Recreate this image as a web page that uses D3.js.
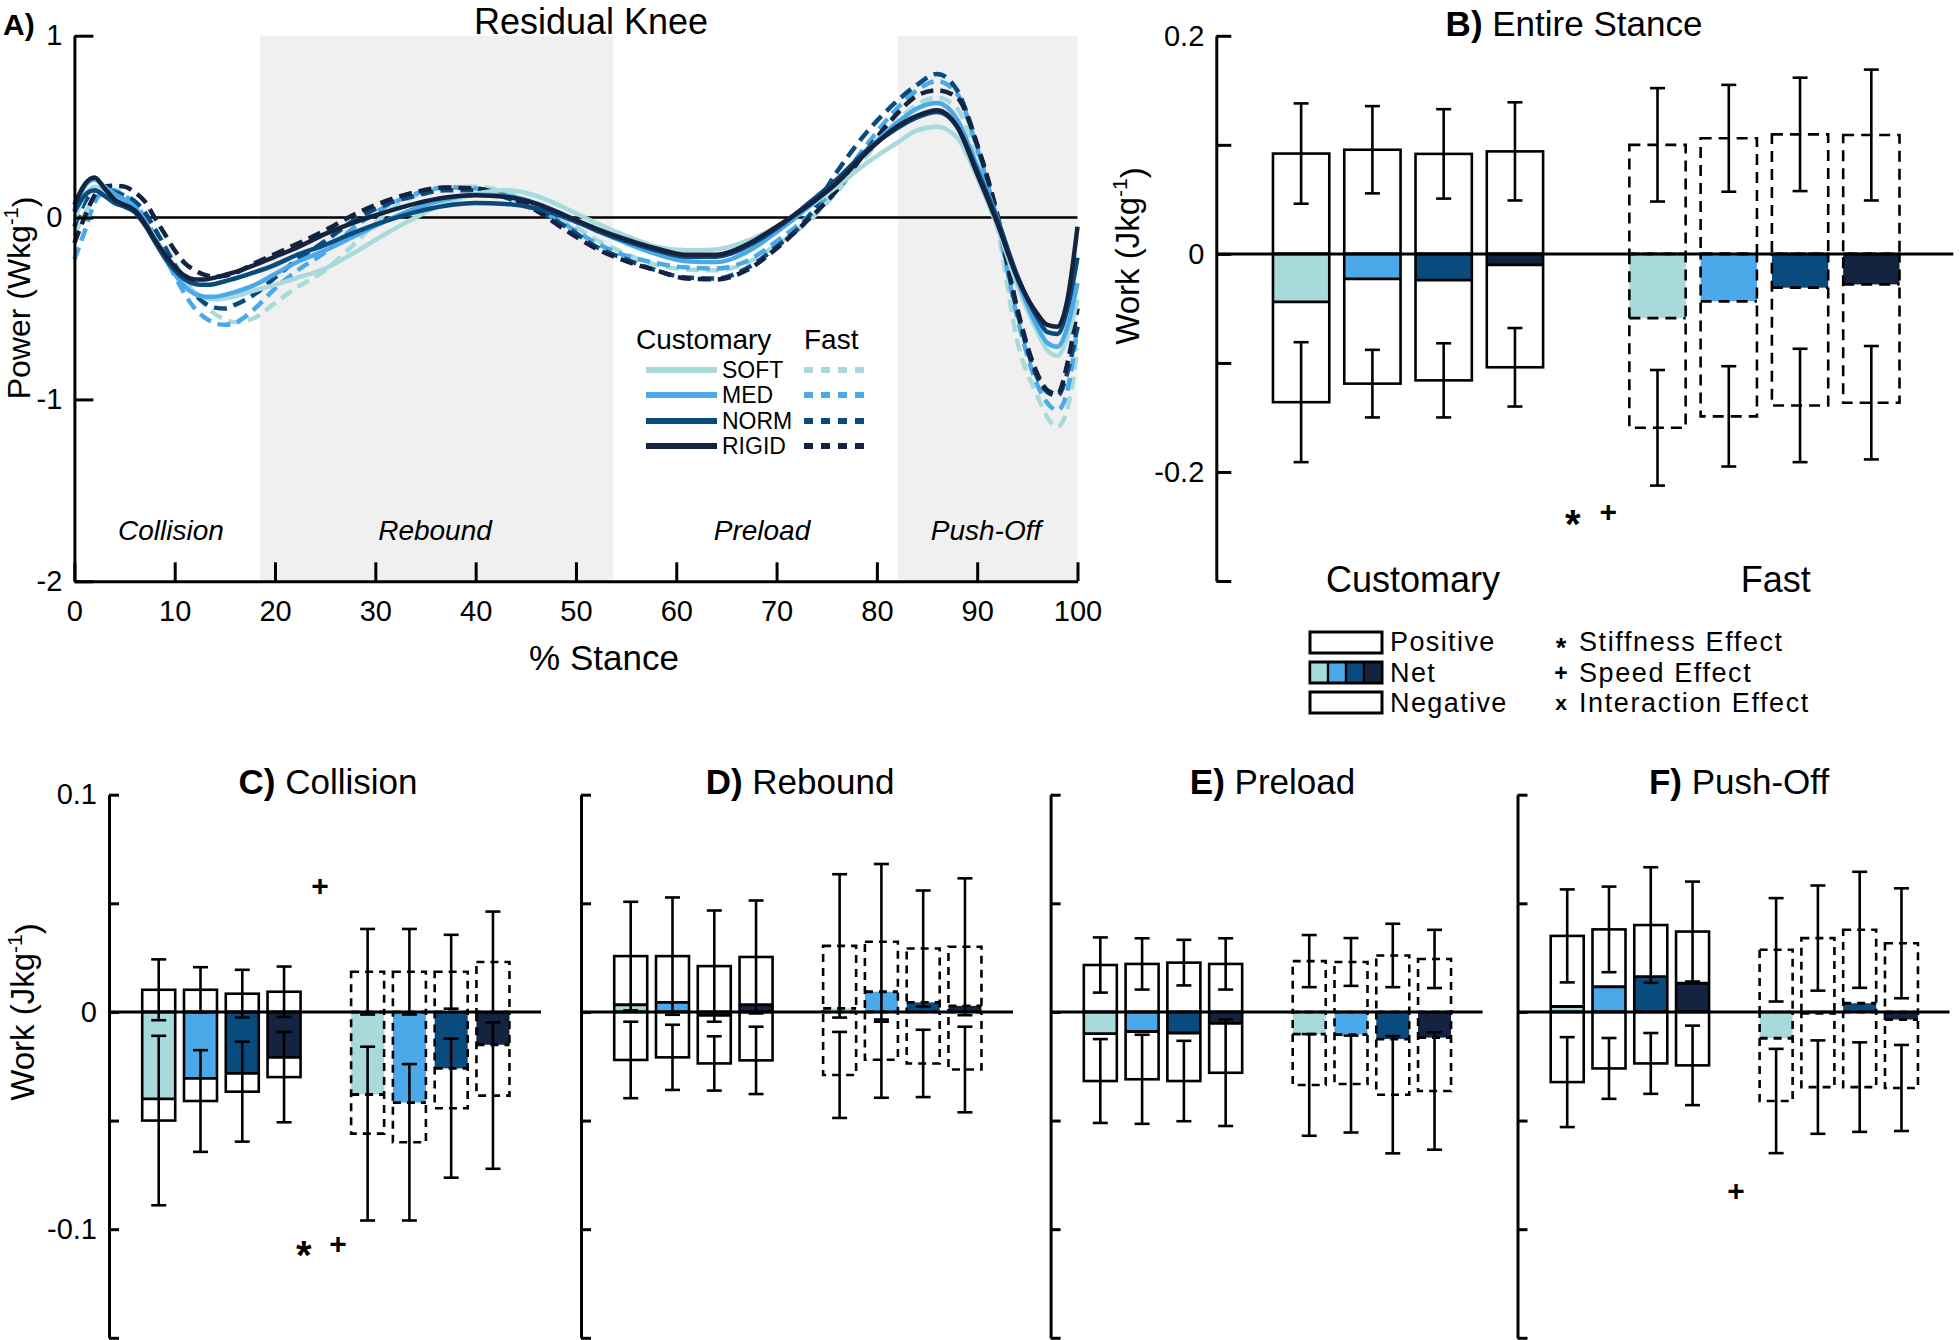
<!DOCTYPE html>
<html><head><meta charset="utf-8">
<script src="https://cdn.jsdelivr.net/npm/d3@7"></script>
<style>
body{margin:0;background:#fff;}
svg{display:block;font-family:"Liberation Sans",Arial,Helvetica,sans-serif;}
</style></head><body>
<svg id="chart" width="1960" height="1340"></svg>
<script>
// ================= DATA =================
const conditions = ["SOFT","MED","NORM","RIGID"];
const speeds = ["Customary","Fast"];
const condColors = ["#a8dadc","#4ba9e9","#0a4b7e","#142340"];
const phaseNames = ["Collision","Rebound","Preload","Push-Off"];
const phaseBounds = [0, 18.5, 53.7, 82.1, 100];
const powerTicks = [1, 0, -1, -2];
const stanceTicks = [0,10,20,30,40,50,60,70,80,90,100];

// Panel A: residual knee power (W/kg) vs % stance
const stance = [0,1,2,3,4,5,6,7,8,9,10,11,12,13,14,15,16,18,20,22,25,28,31,34,37,40,43,46,49,52,55,58,61,64,67,70,73,76,79,82,84,86,88,90,92,94,96,97,98,99,100];
const softCustomary = [-0.02,0.12,0.17,0.15,0.12,0.09,0.05,-0.02,-0.11,-0.20,-0.29,-0.36,-0.41,-0.44,-0.45,-0.445,-0.435,-0.40,-0.37,-0.335,-0.28,-0.19,-0.09,0.0,0.08,0.13,0.15,0.12,0.05,-0.03,-0.10,-0.16,-0.18,-0.175,-0.13,-0.05,0.05,0.17,0.30,0.41,0.48,0.50,0.44,0.22,-0.05,-0.37,-0.63,-0.73,-0.76,-0.66,-0.45];
const medCustomary = [0.04,0.17,0.21,0.17,0.13,0.10,0.06,-0.02,-0.12,-0.22,-0.31,-0.38,-0.42,-0.435,-0.435,-0.425,-0.41,-0.37,-0.31,-0.25,-0.18,-0.10,-0.02,0.05,0.10,0.125,0.12,0.08,0.01,-0.07,-0.14,-0.20,-0.24,-0.245,-0.19,-0.08,0.05,0.20,0.37,0.52,0.60,0.63,0.54,0.28,0.0,-0.34,-0.60,-0.69,-0.71,-0.60,-0.36];
const normCustomary = [0.03,0.12,0.15,0.12,0.08,0.06,0.03,-0.04,-0.13,-0.22,-0.29,-0.34,-0.365,-0.37,-0.365,-0.35,-0.335,-0.30,-0.26,-0.21,-0.15,-0.08,-0.02,0.03,0.065,0.08,0.075,0.05,0.0,-0.07,-0.13,-0.18,-0.215,-0.215,-0.16,-0.06,0.07,0.21,0.37,0.49,0.55,0.58,0.50,0.26,-0.01,-0.32,-0.55,-0.63,-0.64,-0.50,-0.22];
const rigidCustomary = [0.07,0.18,0.22,0.16,0.10,0.07,0.04,-0.03,-0.12,-0.20,-0.27,-0.32,-0.34,-0.34,-0.33,-0.315,-0.30,-0.26,-0.215,-0.17,-0.09,-0.025,0.03,0.077,0.11,0.123,0.114,0.077,0.01,-0.06,-0.12,-0.17,-0.205,-0.205,-0.15,-0.05,0.06,0.19,0.36,0.50,0.56,0.59,0.50,0.24,-0.03,-0.33,-0.53,-0.59,-0.60,-0.45,-0.05];
const softFast = [-0.10,0.02,0.10,0.13,0.14,0.12,0.09,0.03,-0.06,-0.15,-0.25,-0.34,-0.42,-0.48,-0.53,-0.56,-0.575,-0.55,-0.47,-0.39,-0.29,-0.14,0.02,0.12,0.165,0.17,0.14,0.07,-0.02,-0.12,-0.20,-0.26,-0.285,-0.29,-0.25,-0.15,-0.03,0.14,0.34,0.53,0.62,0.66,0.60,0.33,-0.05,-0.68,-0.98,-1.10,-1.15,-1.05,-0.72];
const medFast = [-0.23,-0.08,0.08,0.15,0.15,0.12,0.08,0.0,-0.10,-0.21,-0.32,-0.42,-0.50,-0.55,-0.58,-0.59,-0.58,-0.50,-0.39,-0.30,-0.19,-0.05,0.06,0.13,0.165,0.16,0.12,0.05,-0.04,-0.14,-0.21,-0.25,-0.275,-0.28,-0.24,-0.13,0.0,0.18,0.40,0.60,0.70,0.75,0.68,0.38,-0.02,-0.55,-0.92,-1.02,-1.06,-0.95,-0.60];
const normFast = [-0.05,0.08,0.15,0.16,0.14,0.12,0.09,0.03,-0.06,-0.16,-0.26,-0.35,-0.42,-0.47,-0.495,-0.50,-0.48,-0.42,-0.33,-0.24,-0.13,-0.01,0.07,0.12,0.15,0.15,0.11,0.04,-0.05,-0.16,-0.23,-0.29,-0.33,-0.335,-0.28,-0.16,-0.01,0.25,0.47,0.64,0.73,0.79,0.70,0.40,0.0,-0.52,-0.88,-0.96,-0.98,-0.85,-0.60];
const rigidFast = [-0.14,0.0,0.12,0.17,0.175,0.17,0.14,0.09,0.0,-0.09,-0.18,-0.25,-0.29,-0.315,-0.325,-0.32,-0.305,-0.25,-0.20,-0.15,-0.07,0.02,0.09,0.14,0.165,0.16,0.12,0.04,-0.07,-0.17,-0.24,-0.29,-0.335,-0.34,-0.29,-0.17,-0.02,0.15,0.37,0.57,0.67,0.70,0.66,0.40,0.02,-0.50,-0.86,-0.95,-0.97,-0.80,-0.50];

// Bar panels: order = Customary SOFT, MED, NORM, RIGID, Fast SOFT, MED, NORM, RIGID
const entirePos    = [0.092, 0.0955, 0.0917, 0.094, 0.100, 0.106, 0.1096, 0.109];
const entirePosErr = [0.046, 0.040, 0.041, 0.045, 0.052, 0.049, 0.052, 0.060];
const entireNet    = [-0.044, -0.023, -0.024, -0.010, -0.059, -0.0435, -0.031, -0.028];
const entireNeg    = [-0.136, -0.119, -0.116, -0.104, -0.1595, -0.149, -0.139, -0.1365];
const entireNegErr = [0.055, 0.031, 0.034, 0.036, 0.053, 0.046, 0.052, 0.052];

const collisionPos    = [0.0102, 0.0102, 0.0084, 0.0093, 0.0185, 0.0185, 0.0185, 0.023];
const collisionPosErr = [0.014, 0.0104, 0.011, 0.0116, 0.0197, 0.0197, 0.017, 0.0232];
const collisionNet    = [-0.040, -0.0306, -0.0283, -0.0209, -0.038, -0.0417, -0.026, -0.0151];
const collisionNeg    = [-0.050, -0.041, -0.0367, -0.030, -0.056, -0.060, -0.0443, -0.0385];
const collisionNegErr = [0.039, 0.0234, 0.023, 0.0208, 0.040, 0.036, 0.032, 0.0337];

const reboundPos    = [0.0257, 0.0257, 0.0211, 0.0253, 0.0304, 0.0323, 0.0292, 0.030];
const reboundPosErr = [0.025, 0.027, 0.0256, 0.026, 0.033, 0.0358, 0.0267, 0.0315];
const reboundNet    = [0.0033, 0.0044, -0.0016, 0.0033, 0.0016, 0.0093, 0.0044, 0.0028];
const reboundNeg    = [-0.0221, -0.0209, -0.0237, -0.0223, -0.029, -0.022, -0.0237, -0.0265];
const reboundNegErr = [0.0176, 0.015, 0.0125, 0.0155, 0.0198, 0.0175, 0.0155, 0.0197];

const preloadPos    = [0.0216, 0.0221, 0.0227, 0.0221, 0.0234, 0.023, 0.026, 0.0244];
const preloadPosErr = [0.0127, 0.0118, 0.0105, 0.0118, 0.012, 0.011, 0.0146, 0.0134];
const preloadNet    = [-0.010, -0.009, -0.0097, -0.0053, -0.0102, -0.0104, -0.0125, -0.0118];
const preloadNeg    = [-0.0318, -0.031, -0.0318, -0.028, -0.0336, -0.0332, -0.0381, -0.0364];
const preloadNegErr = [0.0193, 0.0205, 0.0185, 0.0245, 0.0234, 0.0223, 0.027, 0.027];

const pushoffPos    = [0.035, 0.038, 0.040, 0.037, 0.0286, 0.034, 0.0378, 0.0316];
const pushoffPosErr = [0.0214, 0.0197, 0.0266, 0.023, 0.0238, 0.0242, 0.0267, 0.0253];
const pushoffNet    = [0.0025, 0.0116, 0.0163, 0.0132, -0.0121, -0.0007, 0.004, -0.0035];
const pushoffNeg    = [-0.0323, -0.026, -0.0237, -0.0246, -0.041, -0.0346, -0.0346, -0.035];
const pushoffNegErr = [0.0207, 0.014, 0.014, 0.0183, 0.024, 0.0215, 0.0206, 0.0198];

// significance markers: symbol, bar-slot position, work value
const entireMarkers    = [["*", 4.81, -0.2365], ["+", 5.31, -0.2365]];
const collisionMarkers = [["+", 4.86, 0.058], ["*", 4.47, -0.1065], ["+", 5.29, -0.1065]];
const reboundMarkers   = [];
const preloadMarkers   = [];
const pushoffMarkers   = [["+", 5.04, -0.0822]];

const entireTicks = [0.2, 0.1, 0, -0.1, -0.2, -0.3];
const entireTickLabels = [0.2, 0, -0.2];
const phaseTicks = [0.1, 0.05, 0, -0.05, -0.1, -0.15];
const phaseTickLabels = [0.1, 0, -0.1];

const boxLegend = ["Positive", "Net", "Negative"];
const effectSymbols = ["*", "+", "x"];
const effectLabels = ["Stiffness Effect", "Speed Effect", "Interaction Effect"];

// ================= DRAW =================
const svg = d3.select("#chart");
const FONT = '"Liberation Sans",Arial,Helvetica,sans-serif';

function styleAxis(g, fs) {
  g.selectAll(".domain").attr("stroke", "#000").attr("stroke-width", 3);
  g.selectAll(".tick line").attr("stroke", "#000").attr("stroke-width", 3);
  g.selectAll(".tick text").attr("fill", "#000").style("font-size", fs + "px").style("font-family", FONT);
}

function yLabel(x, y, main, fs) {
  const t = svg.append("text").attr("transform", `translate(${x},${y}) rotate(-90)`)
    .attr("text-anchor", "middle").attr("dominant-baseline", "central")
    .style("font-size", fs + "px").attr("fill", "#000");
  t.append("tspan").text(main);
  t.append("tspan").attr("dy", "-0.38em").style("font-size", Math.round(fs * 0.63) + "px").text("-1");
  t.append("tspan").attr("dy", "0.38em").text(")");
}

// ---------- Panel A ----------
(function () {
  const x = d3.scaleLinear().domain([0, 100]).range([74.4, 1077.5]);
  const y = d3.scaleLinear().domain([-2, 1]).range([581.3, 35.7]);
  const g = svg.append("g");

  // phase shading (Rebound and Push-Off)
  [1, 3].forEach(i => {
    g.append("rect").attr("x", x(phaseBounds[i])).attr("y", y(1))
      .attr("width", x(phaseBounds[i + 1]) - x(phaseBounds[i]))
      .attr("height", y(-2) - y(1)).attr("fill", "#f0f0f0");
  });

  // zero line
  g.append("line").attr("x1", x(0)).attr("x2", x(100)).attr("y1", y(0)).attr("y2", y(0))
    .attr("stroke", "#000").attr("stroke-width", 2.5);

  const series = [
    [softFast, 0, true], [medFast, 1, true], [normFast, 2, true], [rigidFast, 3, true],
    [softCustomary, 0, false], [medCustomary, 1, false], [normCustomary, 2, false], [rigidCustomary, 3, false]
  ];
  const line = d3.line().x((d, i) => x(stance[i])).y(d => y(d)).curve(d3.curveMonotoneX);
  series.forEach(([vals, ci, dashed]) => {
    g.append("path").attr("d", line(vals)).attr("fill", "none")
      .attr("stroke", condColors[ci]).attr("stroke-width", 4.5)
      .attr("stroke-dasharray", dashed ? "13,7" : null);
  });

  // axes
  const ax = g.append("g").attr("transform", `translate(0,${y(-2)})`)
    .call(d3.axisBottom(x).tickValues(stanceTicks).tickSizeInner(-19).tickSizeOuter(0).tickPadding(19).tickFormat(d => String(d)));
  styleAxis(ax, 29);
  const ay = g.append("g").attr("transform", `translate(${x(0)},0)`)
    .call(d3.axisLeft(y).tickValues(powerTicks).tickSizeInner(-19).tickSizeOuter(0).tickPadding(12).tickFormat(d => String(d)));
  styleAxis(ay, 29);

  // phase labels
  const phaseLabelX = [171, 435, 762, 986];
  phaseNames.forEach((n, i) => {
    g.append("text").attr("x", phaseLabelX[i]).attr("y", 540).attr("text-anchor", "middle")
      .style("font-size", "28px").style("font-style", "italic").text(n);
  });

  // titles
  svg.append("text").attr("x", 3).attr("y", 35).style("font-size", "30px").style("font-weight", "bold").text("A)");
  svg.append("text").attr("x", 591).attr("y", 34).attr("text-anchor", "middle").style("font-size", "36px").text("Residual Knee");
  svg.append("text").attr("x", 604).attr("y", 670).attr("text-anchor", "middle").style("font-size", "35px").text("% Stance");
  yLabel(19, 298, "Power (Wkg", 32);

  // legend
  const lg = svg.append("g");
  lg.append("text").attr("x", 636).attr("y", 349).style("font-size", "28px").text(speeds[0]);
  lg.append("text").attr("x", 804).attr("y", 349).style("font-size", "28px").text(speeds[1]);
  const rowsY = [370, 395, 421, 446];
  conditions.forEach((c, i) => {
    lg.append("line").attr("x1", 646).attr("x2", 717).attr("y1", rowsY[i]).attr("y2", rowsY[i])
      .attr("stroke", condColors[i]).attr("stroke-width", 6);
    lg.append("line").attr("x1", 804).attr("x2", 869).attr("y1", rowsY[i]).attr("y2", rowsY[i])
      .attr("stroke", condColors[i]).attr("stroke-width", 6).attr("stroke-dasharray", "9,8");
    lg.append("text").attr("x", 722).attr("y", rowsY[i]).attr("dy", "0.36em").style("font-size", "23px").text(c);
  });
})();

// ---------- Bar panels ----------
const slotPos = [1, 2, 3, 4, 6, 7, 8, 9];
const slotDomain = [-0.19, 10.15];
const slotWidth = 0.79;

function marker(g, sym, px, py) {
  g.append("text").attr("x", px).attr("y", py).attr("text-anchor", "middle")
    .attr("dominant-baseline", "central").attr("dy", sym === "*" ? "0.3em" : "0")
    .style("font-size", sym === "*" ? "40px" : "30px")
    .style("font-weight", "bold").text(sym);
}

function barPanel(p) {
  const g = svg.append("g");
  const x = d3.scaleLinear().domain(slotDomain).range([p.axisX, p.axisX + p.width]);
  const y = d3.scaleLinear().domain(p.domain).range(p.yRange);
  const cap = 7.5;

  slotPos.forEach((s, i) => {
    const fast = i >= 4;
    const dash = fast ? p.dash : null;
    const x0 = x(s - slotWidth / 2), x1 = x(s + slotWidth / 2), xc = x(s);
    const col = condColors[i % 4];
    // white boxes
    g.append("rect").attr("x", x0).attr("y", y(p.pos[i])).attr("width", x1 - x0)
      .attr("height", y(0) - y(p.pos[i])).attr("fill", "#fff");
    g.append("rect").attr("x", x0).attr("y", y(0)).attr("width", x1 - x0)
      .attr("height", y(p.neg[i]) - y(0)).attr("fill", "#fff");
    // net fill
    const nTop = Math.min(y(0), y(p.net[i])), nBot = Math.max(y(0), y(p.net[i]));
    g.append("rect").attr("x", x0).attr("y", nTop).attr("width", x1 - x0)
      .attr("height", nBot - nTop).attr("fill", col);
    // outlines
    g.append("rect").attr("x", x0).attr("y", y(p.pos[i])).attr("width", x1 - x0)
      .attr("height", y(0) - y(p.pos[i])).attr("fill", "none").attr("stroke", "#000")
      .attr("stroke-width", 2.6).attr("stroke-dasharray", dash);
    g.append("rect").attr("x", x0).attr("y", y(0)).attr("width", x1 - x0)
      .attr("height", y(p.neg[i]) - y(0)).attr("fill", "none").attr("stroke", "#000")
      .attr("stroke-width", 2.6).attr("stroke-dasharray", dash);
    // net line
    g.append("line").attr("x1", x0).attr("x2", x1).attr("y1", y(p.net[i])).attr("y2", y(p.net[i]))
      .attr("stroke", "#000").attr("stroke-width", 2.8).attr("stroke-dasharray", dash);
    // error bars
    [[p.pos[i], p.posErr[i]], [p.neg[i], p.negErr[i]]].forEach(([v, e]) => {
      const lo = y(v - e), hi = y(v + e);
      g.append("line").attr("x1", xc).attr("x2", xc).attr("y1", lo).attr("y2", hi)
        .attr("stroke", "#000").attr("stroke-width", 2.6);
      [lo, hi].forEach(yy => g.append("line").attr("x1", xc - cap).attr("x2", xc + cap)
        .attr("y1", yy).attr("y2", yy).attr("stroke", "#000").attr("stroke-width", 2.6));
    });
  });

  // zero line
  g.append("line").attr("x1", p.axisX).attr("x2", p.axisX + p.width).attr("y1", y(0)).attr("y2", y(0))
    .attr("stroke", "#000").attr("stroke-width", 3);

  // axis
  const ay = g.append("g").attr("transform", `translate(${p.axisX},0)`)
    .call(d3.axisLeft(y).tickValues(p.ticks).tickSizeInner(-p.tickLen).tickSizeOuter(0).tickPadding(12)
      .tickFormat(d => (p.showLabels && p.tickLabels.includes(d)) ? String(d) : ""));
  styleAxis(ay, 29);

  // markers
  p.markers.forEach(([sym, u, v]) => marker(g, sym, x(u), y(v)));

  // title
  const t = svg.append("text").attr("x", p.titleX).attr("y", p.titleY).attr("text-anchor", "middle")
    .style("font-size", "35px");
  t.append("tspan").style("font-weight", "bold").text(p.letter + ")");
  t.append("tspan").text(" " + p.title);
  return x;
}

const xB = barPanel({
  letter: "B", title: "Entire Stance", titleX: 1574, titleY: 36,
  axisX: 1216.3, width: 737, domain: [-0.3, 0.2], yRange: [581, 35.8],
  ticks: entireTicks, tickLabels: entireTickLabels, showLabels: true, tickLen: 15, dash: "11,7",
  pos: entirePos, posErr: entirePosErr, net: entireNet, neg: entireNeg, negErr: entireNegErr,
  markers: entireMarkers
});
yLabel(1127, 256, "Work (Jkg", 33);
svg.append("text").attr("x", xB(2.57)).attr("y", 592).attr("text-anchor", "middle").style("font-size", "36px").text(speeds[0]);
svg.append("text").attr("x", xB(7.66)).attr("y", 592).attr("text-anchor", "middle").style("font-size", "36px").text(speeds[1]);

const phasePanels = [
  ["C", "Collision", 109, 328, collisionPos, collisionPosErr, collisionNet, collisionNeg, collisionNegErr, collisionMarkers, true],
  ["D", "Rebound", 581, 800, reboundPos, reboundPosErr, reboundNet, reboundNeg, reboundNegErr, reboundMarkers, false],
  ["E", "Preload", 1050.6, 1272.5, preloadPos, preloadPosErr, preloadNet, preloadNeg, preloadNegErr, preloadMarkers, false],
  ["F", "Push-Off", 1517.5, 1739, pushoffPos, pushoffPosErr, pushoffNet, pushoffNeg, pushoffNegErr, pushoffMarkers, false]
];
phasePanels.forEach(([letter, title, axisX, titleX, pos, posErr, net, neg, negErr, markers, showLabels]) => {
  barPanel({
    letter, title, titleX, titleY: 794,
    axisX, width: 432, domain: [-0.15, 0.1], yRange: [1337.8, 794.7],
    ticks: phaseTicks, tickLabels: phaseTickLabels, showLabels, tickLen: 10, dash: "8,6",
    pos, posErr, net, neg, negErr, markers
  });
});
yLabel(22, 1012, "Work (Jkg", 33);

// ---------- B legend ----------
(function () {
  const g = svg.append("g");
  const bx = 1310, bw = 72;
  const rowTop = [632, 662, 692];
  const rowCy = [642, 672.5, 703];
  boxLegend.forEach((label, r) => {
    g.append("rect").attr("x", bx).attr("y", rowTop[r]).attr("width", bw).attr("height", 21)
      .attr("fill", r === 1 ? "#000" : "#fff").attr("stroke", "#000").attr("stroke-width", 3);
    if (r === 1) {
      const cw = bw / 4;
      condColors.forEach((c, i) => g.append("rect").attr("x", bx + i * cw + 1.2).attr("y", rowTop[r] + 1.5)
        .attr("width", cw - 2.4).attr("height", 18).attr("fill", c));
    }
    g.append("text").attr("x", 1390).attr("y", rowCy[r]).attr("dominant-baseline", "central")
      .style("font-size", "27px").style("letter-spacing", "1.4px").text(label);
  });
  // symbol column as one text block
  const sym = g.append("text").attr("text-anchor", "middle").style("font-weight", "bold");
  const symSize = [27, 23, 21];
  const symShift = [0.22, 0, 0];
  effectSymbols.forEach((s, i) => {
    sym.append("tspan").attr("x", 1561).attr("y", rowCy[i] + symShift[i] * symSize[i] + 0.35 * symSize[i])
      .style("font-size", symSize[i] + "px").text(s);
  });
  effectLabels.forEach((label, i) => {
    g.append("text").attr("x", 1579).attr("y", rowCy[i]).attr("dominant-baseline", "central")
      .style("font-size", "27px").style("letter-spacing", "1.6px").text(label);
  });
})();
</script>
</body></html>
